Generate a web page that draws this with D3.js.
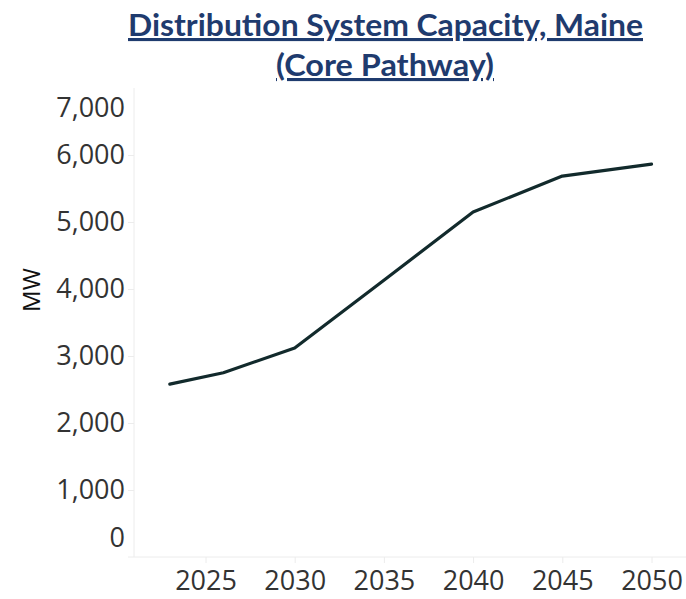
<!DOCTYPE html>
<html>
<head>
<meta charset="utf-8">
<script src="https://cdn.jsdelivr.net/npm/d3@7"></script>
<style>
  body { margin: 0; background: #fff; }
  svg { display: block; }
  .title { font-family: Lato, "Open Sans", sans-serif; font-weight: bold; fill: #1f3b6e; text-decoration: underline; }
  .axis text { font-family: "Open Sans", sans-serif; font-size: 27px; fill: #333; }
  .axis path, .axis line { stroke: #ececec; }
</style>
</head>
<body>
<svg width="686" height="599"></svg>
<script>
// Core Pathway distribution capacity (MW)
var years = [2023, 2026, 2030, 2035, 2040, 2045, 2050];
var capacity = [2580, 2750, 3120, 4130, 5150, 5685, 5865];
var xTicks = [2025, 2030, 2035, 2040, 2045, 2050];
var yTicks = [0, 1000, 2000, 3000, 4000, 5000, 6000, 7000];

var svg = d3.select('svg');

var scaleX = d3.scaleLinear().domain([2025, 2050]).range([205.5, 651.5]);
var scaleY = d3.scaleLinear().domain([0, 7000]).range([557, 88]);

// title
svg.append('text').attr('class', 'title')
  .attr('x', 385.5).attr('y', 36).attr('text-anchor', 'middle')
  .attr('font-size', 31)
  .attr('textLength', 515).attr('lengthAdjust', 'spacingAndGlyphs')
  .text('Distribution System Capacity, Maine');
svg.append('text').attr('class', 'title')
  .attr('x', 385).attr('y', 76).attr('text-anchor', 'middle')
  .attr('font-size', 31)
  .attr('textLength', 218).attr('lengthAdjust', 'spacingAndGlyphs')
  .text('(Core Pathway)');

// y axis
var axisY = d3.axisLeft(scaleY).tickValues(yTicks).tickSize(6).tickSizeOuter(0)
  .tickPadding(3).tickFormat(d3.format(','));
var gy = svg.append('g').attr('class', 'axis').attr('transform', 'translate(134,0)').call(axisY);
gy.select('.domain').attr('d', 'M0,88V557');
// end labels pushed inside the pane, like the original
gy.selectAll('.tick text').attr('dy', function(d) {
  if (d === 0) return '-0.38em';
  if (d === 7000) return '1.05em';
  return '0.32em';
});
gy.selectAll('.tick').filter(function(d) { return d === 0 || d === 7000; })
  .select('line').remove();

// x axis
var axisX = d3.axisBottom(scaleX).tickValues(xTicks).tickSize(6).tickSizeOuter(0)
  .tickPadding(8).tickFormat(d3.format('d'));
var gx = svg.append('g').attr('class', 'axis').attr('transform', 'translate(0,557)').call(axisX);
gx.select('.domain').attr('d', 'M128,0H686');

// y label
svg.append('text')
  .attr('transform', 'translate(40,290)rotate(-90)')
  .attr('text-anchor', 'middle')
  .attr('font-family', '"Open Sans", sans-serif')
  .attr('font-size', 24)
  .attr('fill', '#111')
  .text('MW');

// line
var line = d3.line()
  .x(function(d, i) { return scaleX(years[i]); })
  .y(function(d) { return scaleY(d); });
svg.append('path')
  .datum(capacity)
  .attr('d', line)
  .attr('fill', 'none')
  .attr('stroke', '#122a2c')
  .attr('stroke-width', 3.2)
  .attr('stroke-linejoin', 'round')
  .attr('stroke-linecap', 'round');
</script>
</body>
</html>
